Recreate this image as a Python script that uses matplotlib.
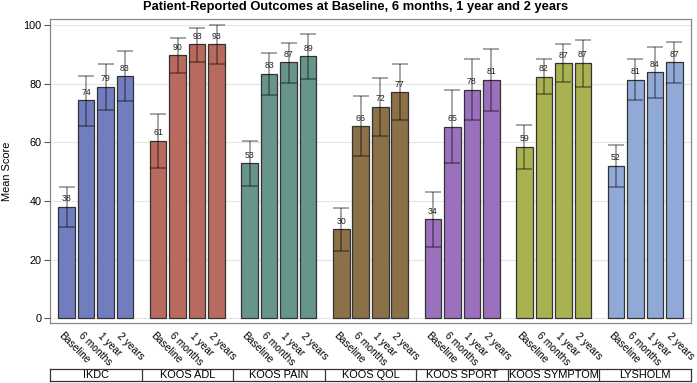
import matplotlib
matplotlib.use('Agg')
import matplotlib.pyplot as plt
import matplotlib.transforms as mtransforms
import numpy as np

plt.rcParams['font.family'] = ['Liberation Sans', 'DejaVu Sans']

# --- Data ---
measures = ['IKDC', 'KOOS ADL', 'KOOS PAIN', 'KOOS QOL', 'KOOS SPORT', 'KOOS SYMPTOM', 'LYSHOLM']
timepoints = ['Baseline', '6 months', '1 year', '2 years']
colors = ['#717dbf', '#b86a5e', '#68958b', '#8b7048', '#9b71be', '#a9b150', '#90a9d7']

means = [
    [38.0, 74.3, 78.9, 82.5],
    [60.6, 89.7, 93.4, 93.4],
    [52.8, 83.4, 87.3, 89.3],
    [30.3, 65.5, 72.1, 77.1],
    [33.7, 65.3, 77.9, 81.4],
    [58.5, 82.4, 87.0, 87.2],
    [52.0, 81.4, 84.0, 87.3],
]
ci_low = [
    [31.1, 65.6, 71.1, 74.1],
    [51.4, 83.8, 87.5, 86.9],
    [45.2, 76.3, 80.2, 81.7],
    [23.1, 55.4, 62.3, 67.7],
    [24.2, 52.8, 67.7, 70.6],
    [50.9, 76.5, 80.6, 79.0],
    [44.8, 74.3, 75.3, 80.4],
]
ci_high = [
    [44.8, 82.6, 86.9, 91.1],
    [69.7, 95.5, 99.1, 99.9],
    [60.6, 90.5, 93.9, 96.8],
    [37.5, 75.7, 82.1, 86.7],
    [43.1, 77.7, 88.6, 91.9],
    [66.0, 88.3, 93.4, 95.0],
    [59.2, 88.3, 92.7, 94.3],
]
labels = [
    [38, 74, 79, 83],
    [61, 90, 93, 93],
    [53, 83, 87, 89],
    [30, 66, 72, 77],
    [34, 65, 78, 81],
    [59, 82, 87, 87],
    [52, 81, 84, 87],
]

group_w = 4.7
offset = 0.85

fig = plt.figure(figsize=(6.97, 3.83), dpi=100)
ax = fig.add_axes([0.0717, 0.156, 0.9197, 0.7945])

xt, xl = [], []
for g in range(len(measures)):
    x = g * group_w + offset + np.arange(4)
    m = np.array(means[g])
    lo = m - np.array(ci_low[g])
    hi = np.array(ci_high[g]) - m
    ax.bar(x, m, width=0.85, color=colors[g], edgecolor='#333333', linewidth=0.9, zorder=2)
    ax.errorbar(x, m, yerr=[lo, hi], fmt='none', ecolor='black', alpha=0.45,
                elinewidth=1.1, capsize=5.8, capthick=1.1, zorder=3)
    for xi, mi, lab in zip(x, m, labels[g]):
        ax.text(xi, mi + 1.2, str(lab), ha='center', va='bottom', fontsize=6.3,
                color='#222222', zorder=4)
    xt.extend(x)
    xl.extend(timepoints)

ax.set_xlim(0, group_w * len(measures))
ax.set_ylim(-1.7, 102.1)
ax.set_yticks([0, 20, 40, 60, 80, 100])
ax.tick_params(axis='y', labelsize=7.8, length=4, color='#555555', pad=2)
ax.set_xticks(xt)
ax.set_xticklabels(xl, rotation=-45, ha='left', va='center', rotation_mode='anchor', fontsize=7.4)
ax.tick_params(axis='x', length=0, pad=8)
shift = mtransforms.ScaledTranslation(-0.06, 0, fig.dpi_scale_trans)
for lab in ax.get_xticklabels():
    lab.set_transform(lab.get_transform() + shift)
ax.set_ylabel('Mean Score', fontsize=7.9, labelpad=8)
ax.grid(axis='y', color='#e4e4e4', linewidth=0.8, zorder=0)
ax.set_axisbelow(True)
for s in ax.spines.values():
    s.set_color('#888888')
    s.set_linewidth(0.9)

fig.suptitle('Patient-Reported Outcomes at Baseline, 6 months, 1 year and 2 years',
             fontsize=9.3, fontweight='bold', x=0.51, y=0.997)

# category boxes below
cax = fig.add_axes([0.0717, 0.0055, 0.9197, 0.032])
cax.set_xlim(0, group_w * len(measures))
cax.set_ylim(0, 1)
cax.set_xticks([])
cax.set_yticks([])
for s in cax.spines.values():
    s.set_color('#333333')
    s.set_linewidth(0.9)
for g, name in enumerate(measures):
    if g > 0:
        cax.axvline(g * group_w, color='#333333', linewidth=0.9)
    cax.text(g * group_w + group_w / 2, 0.45, name, ha='center', va='center', fontsize=7.9)

fig.savefig('out.png', dpi=100)
